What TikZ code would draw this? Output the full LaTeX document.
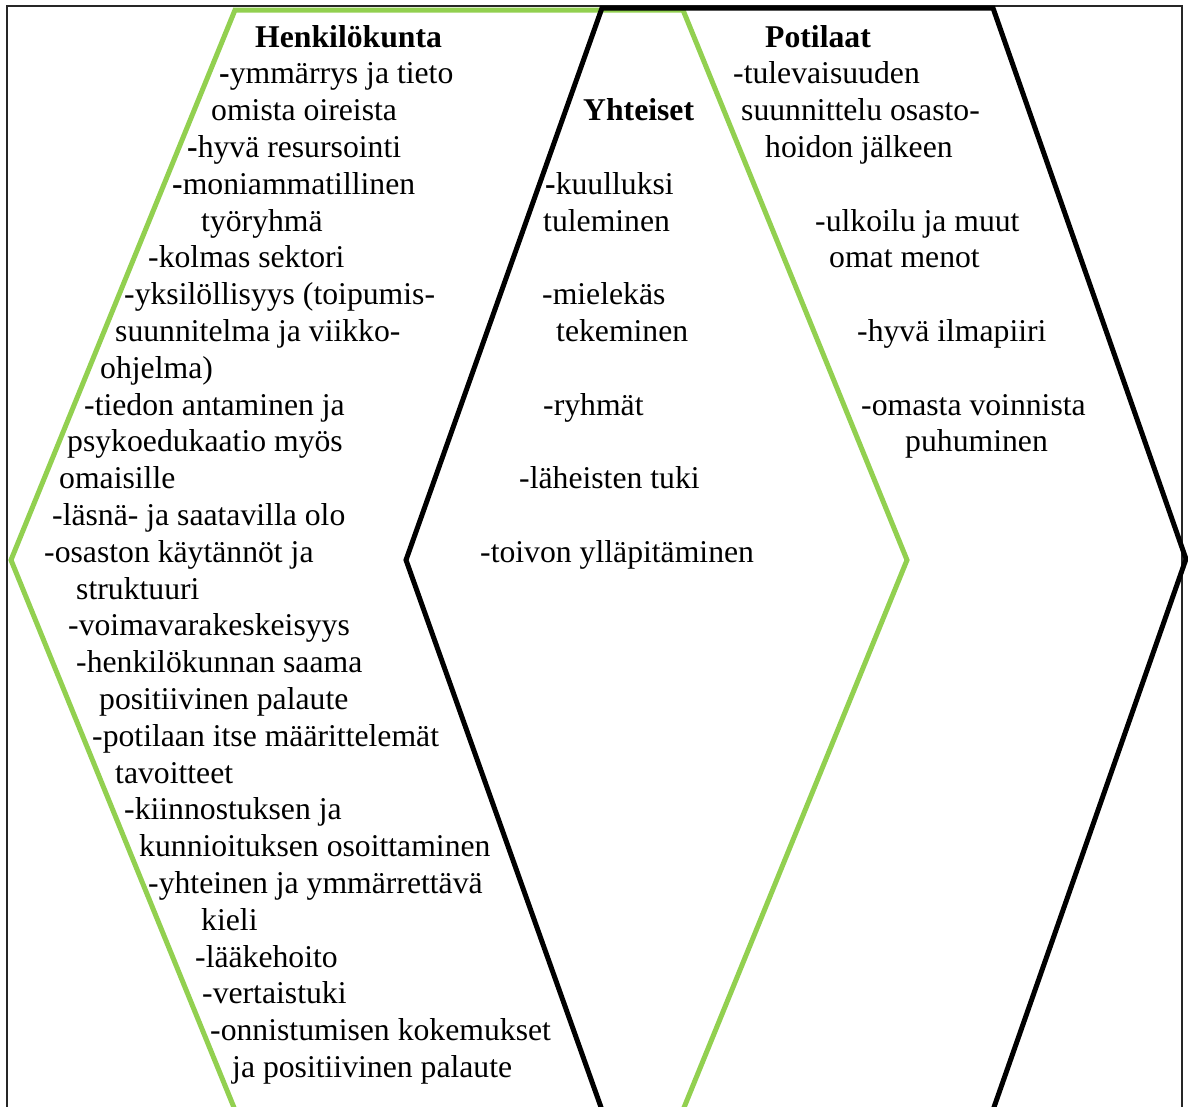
\documentclass[tikz,border=0pt]{standalone}
\usepackage{fontspec}
\setmainfont{Liberation Serif}
\definecolor{hexgreen}{HTML}{92D050}
\begin{document}
\begin{tikzpicture}[x=1pt,y=-1pt,
  txt/.style={anchor=base west,inner sep=0pt,font=\fontsize{31.7}{36.8}\selectfont},
  head/.style={txt,font=\fontsize{31.7}{36.8}\selectfont\bfseries},
  hexline/.style={line width=5pt,line join=miter}]
\useasboundingbox (0,0) rectangle (1188,1106);
\begin{scope}
\clip (0,0) rectangle (1188,1106);
\fill[white] (0,0) rectangle (1188,1106);
\draw[black!85,line width=1.2pt] (7,6) rectangle (1182,1120);
\draw[hexline,hexgreen] (235,10) -- (683,10) -- (907,560) -- (683,1110) -- (235,1110) -- (11,560) -- cycle;
\draw[hexline,black] (602,8) -- (993,8) -- (1186,559) -- (993,1110) -- (602,1110) -- (406,560) -- cycle;
\end{scope}
% Henkilokunta column
\node[head] (h0) at (255,47) {Henkilökunta};
\node[txt] (h1) at (219,83.8) {{\bfseries -}ymmärrys ja tieto};
\node[txt] (h2) at (211,120.6) {omista oireista};
\node[txt] (h3) at (187,157.4) {{\bfseries -}hyvä resursointi};
\node[txt] (h4) at (172,194.2) {{\bfseries -}moniammatillinen};
\node[txt] (h5) at (201,231) {työryhmä};
\node[txt] (h6) at (148,267.8) {-kolmas sektori};
\node[txt] (h7) at (124,304.6) {-yksilöllisyys (toipumis-};
\node[txt] (h8) at (115,341.4) {suunnitelma ja viikko-};
\node[txt] (h9) at (100,378.2) {ohjelma)};
\node[txt] (h10) at (84,415) {-tiedon antaminen ja};
\node[txt] (h11) at (67,451.8) {psykoedukaatio myös};
\node[txt] (h12) at (59,488.6) {omaisille};
\node[txt] (h13) at (52,525.4) {-läsnä- ja saatavilla olo};
\node[txt] (h14) at (44,562.2) {-osaston käytännöt ja};
\node[txt] (h15) at (76,599) {struktuuri};
\node[txt] (h16) at (68,635.8) {-voimavarakeskeisyys};
\node[txt] (h17) at (76,672.6) {-henkilökunnan saama};
\node[txt] (h18) at (99,709.4) {positiivinen palaute};
\node[txt] (h19) at (92,746.2) {-potilaan itse määrittelemät};
\node[txt] (h20) at (115,783) {tavoitteet};
\node[txt] (h21) at (124,819.8) {-kiinnostuksen ja};
\node[txt] (h22) at (139,856.6) {kunnioituksen osoittaminen};
\node[txt] (h23) at (148,893.4) {-yhteinen ja ymmärrettävä};
\node[txt] (h24) at (201,930.2) {kieli};
\node[txt] (h25) at (195,967) {-lääkehoito};
\node[txt] (h26) at (202,1003.8) {-vertaistuki};
\node[txt] (h27) at (210,1040.6) {-onnistumisen kokemukset};
\node[txt] (h28) at (232,1077.4) {ja positiivinen palaute};
% Yhteiset column
\node[head] (y0) at (583,120.6) {Yhteiset};
\node[txt] (y1) at (545,194.2) {{\bfseries -}kuulluksi};
\node[txt] (y2) at (543,231) {tuleminen};
\node[txt] (y3) at (542,304.6) {-mielekäs};
\node[txt] (y4) at (556,341.4) {tekeminen};
\node[txt] (y5) at (543,415) {-ryhmät};
\node[txt] (y6) at (519,488.6) {-läheisten tuki};
\node[txt] (y7) at (480,562.2) {-toivon ylläpitäminen};
% Potilaat column
\node[head] (p0) at (765,47) {Potilaat};
\node[txt] (p1) at (733,83.8) {-tulevaisuuden};
\node[txt] (p2) at (741,120.6) {suunnittelu osasto-};
\node[txt] (p3) at (765,157.4) {hoidon jälkeen};
\node[txt] (p4) at (815,231) {-ulkoilu ja muut};
\node[txt] (p5) at (829,267.8) {omat menot};
\node[txt] (p6) at (857,341.4) {-hyvä ilmapiiri};
\node[txt] (p7) at (861,415) {-omasta voinnista};
\node[txt] (p8) at (905,451.8) {puhuminen};
\end{tikzpicture}
\end{document}
